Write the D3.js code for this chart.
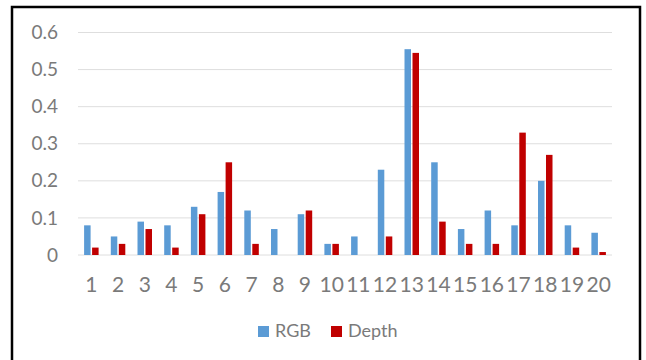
<!DOCTYPE html>
<html>
<head>
<meta charset="utf-8">
<script src="https://cdn.jsdelivr.net/npm/d3@7"></script>
<style>
  body { margin: 0; background: #fff; }
  svg { display: block; font-family: Lato, "Open Sans", sans-serif; }
</style>
</head>
<body>
<div id="container"></div>
<script>
// DATA
const categories = ["1","2","3","4","5","6","7","8","9","10","11","12","13","14","15","16","17","18","19","20"];
const rgbValues   = [0.08, 0.05, 0.09, 0.08, 0.13, 0.17, 0.12, 0.07, 0.11, 0.03, 0.05, 0.23, 0.555, 0.25, 0.07, 0.12, 0.08, 0.20, 0.08, 0.06];
const depthValues = [0.02, 0.03, 0.07, 0.02, 0.11, 0.25, 0.03, 0, 0.12, 0.03, 0, 0.05, 0.545, 0.09, 0.03, 0.03, 0.33, 0.27, 0.02, 0.008];
const yTicks = [0, 0.1, 0.2, 0.3, 0.4, 0.5, 0.6];
const seriesNames = ["RGB", "Depth"];
const seriesColors = ["#5B9BD5", "#C00000"];

const W = 646, H = 360;
const plot = { left: 78, right: 612, top: 32.5, bottom: 255 };

const svg = d3.select("#container")
  .append("svg")
  .attr("width", W)
  .attr("height", H);

// frame
svg.append("rect")
  .attr("x", 12).attr("y", 7)
  .attr("width", 628).attr("height", 370)
  .attr("fill", "#fff")
  .attr("stroke", "#000")
  .attr("stroke-width", 2.5);

// SCALES
const xScale = d3.scaleBand()
  .domain(categories)
  .range([plot.left, plot.right]);

const yScale = d3.scaleLinear()
  .domain([0, 0.6])
  .range([plot.bottom, plot.top]);

// gridlines
svg.append("g")
  .selectAll("line")
  .data(yTicks)
  .enter()
  .append("line")
  .attr("x1", plot.left)
  .attr("x2", plot.right)
  .attr("y1", d => yScale(d))
  .attr("y2", d => yScale(d))
  .attr("stroke", "#dedede")
  .attr("stroke-width", 1);

// y axis labels
const yAxis = d3.axisLeft(yScale)
  .tickValues(yTicks)
  .tickFormat(d => d === 0 ? "0" : d3.format(".1f")(d))
  .tickSize(0)
  .tickPadding(20);

const yAxisGroup = svg.append("g")
  .attr("transform", `translate(${plot.left},0)`)
  .call(yAxis);
yAxisGroup.select(".domain").remove();
yAxisGroup.selectAll("text")
  .attr("fill", "#7a7a7a")
  .style("font-size", "19px")
  .style("font-family", "Lato, sans-serif");

// x axis labels
const xAxis = d3.axisBottom(xScale).tickSize(0).tickPadding(22);
const xAxisGroup = svg.append("g")
  .attr("transform", `translate(0,${plot.bottom})`)
  .call(xAxis);
xAxisGroup.select(".domain").remove();
xAxisGroup.selectAll("text")
  .attr("fill", "#7a7a7a")
  .style("font-size", "21px")
  .style("font-family", "Lato, sans-serif");

// bars
const barW = 6.5;
const gap = 1.5;
const series = [rgbValues, depthValues];

series.forEach((vals, si) => {
  svg.append("g")
    .selectAll("rect")
    .data(vals)
    .enter()
    .append("rect")
    .attr("x", (d, i) => {
      const c = xScale(categories[i]) + xScale.bandwidth() / 2;
      return si === 0 ? c - barW - gap / 2 : c + gap / 2;
    })
    .attr("y", d => yScale(d))
    .attr("width", barW)
    .attr("height", d => plot.bottom - yScale(d))
    .attr("fill", seriesColors[si]);
});

// legend
const legendX = [258, 331];
const legend = svg.append("g");
seriesNames.forEach((name, i) => {
  legend.append("rect")
    .attr("x", legendX[i])
    .attr("y", 326)
    .attr("width", 11)
    .attr("height", 11)
    .attr("fill", seriesColors[i]);
  legend.append("text")
    .attr("x", legendX[i] + 17)
    .attr("y", 337)
    .attr("fill", "#7a7a7a")
    .style("font-size", "18px")
    .text(name);
});
</script>
</body>
</html>
